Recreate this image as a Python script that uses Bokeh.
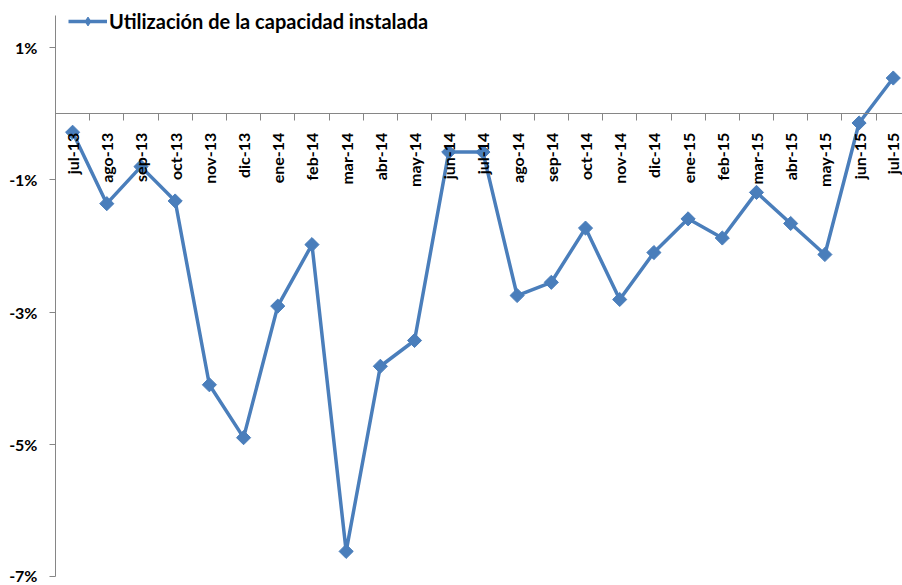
import math
from bokeh.plotting import figure
from bokeh.models import LinearAxis, FixedTicker, Range1d, Legend, LegendItem
from bokeh.embed import file_html
from bokeh.resources import INLINE

months = ["jul-13", "ago-13", "sep-13", "oct-13", "nov-13", "dic-13", "ene-14", "feb-14",
          "mar-14", "abr-14", "may-14", "jun-14", "jul-14", "ago-14", "sep-14", "oct-14",
          "nov-14", "dic-14", "ene-15", "feb-15", "mar-15", "abr-15", "may-15", "jun-15", "jul-15"]
utilizacion = [-0.28, -1.36, -0.80, -1.32, -4.10, -4.90, -2.91, -1.98,
               -6.62, -3.82, -3.43, -0.58, -0.58, -2.75, -2.55, -1.73,
               -2.81, -2.10, -1.59, -1.88, -1.19, -1.66, -2.13, -0.14, 0.54]
series_name = "Utilización de la capacidad instalada"
y_ticks = [1, -1, -3, -5, -7]
y_tick_labels = ["1%", "-1%", "-3%", "-5%", "-7%"]

FONT = "Lato"
BLUE = "#4A7EBB"
GRAY = "#868686"

xs = list(range(len(months)))
bounds = [i - 0.5 for i in range(len(months) + 1)]

p = figure(width=902, height=584, frame_width=847, frame_height=571,
           output_backend="svg", toolbar_location=None,
           x_axis_type=None,
           x_range=Range1d(-0.5, 24.27), y_range=Range1d(-7.0, 1.637),
           min_border_left=55, min_border_top=5, min_border_right=0, min_border_bottom=8)
p.outline_line_color = None
p.grid.visible = False
p.background_fill_color = "white"

# y axis
ya = p.yaxis[0]
ya.ticker = FixedTicker(ticks=y_ticks)
ya.bounds = (-7.0, 1.486)
ya.major_label_overrides = {t: l for t, l in zip(y_ticks, y_tick_labels)}
ya.axis_line_color = GRAY
ya.major_tick_line_color = GRAY
ya.major_tick_out = 6
ya.major_tick_in = 0
ya.minor_tick_line_color = None
ya.major_label_standoff = 12
ya.major_label_text_font = FONT
ya.major_label_text_font_style = "bold"
ya.major_label_text_font_size = "16px"
ya.major_label_text_color = "black"

# x axis at zero: labels at category centres, tick marks at category boundaries
ax = LinearAxis(ticker=FixedTicker(ticks=xs, minor_ticks=bounds),
                fixed_location=0,
                axis_line_color=GRAY,
                major_tick_line_color=None, major_tick_out=0, major_tick_in=0,
                minor_tick_line_color=GRAY, minor_tick_out=7, minor_tick_in=0,
                major_label_overrides={i: m for i, m in zip(xs, months)},
                major_label_orientation=math.pi / 2,
                major_label_standoff=12,
                major_label_text_font=FONT,
                major_label_text_font_style="bold",
                major_label_text_font_size="16px",
                major_label_text_color="black")
p.add_layout(ax, "below")

ln = p.line(xs, utilizacion, line_color=BLUE, line_width=3.5)
# small diamond under the first marker, used as the legend's diamond icon
mk_leg = p.scatter(xs[:1], utilizacion[:1], marker="diamond", size=7,
                   fill_color=BLUE, line_color=BLUE)
mk = p.scatter(xs, utilizacion, marker="square", angle=math.pi / 4, size=10,
               fill_color=BLUE, line_color=BLUE)

legend = Legend(items=[LegendItem(label=series_name, renderers=[ln, mk_leg])],
                location=(13, 543), padding=0, margin=0, spacing=0,
                glyph_width=39, glyph_height=22, label_height=22, label_standoff=2,
                border_line_color=None, background_fill_alpha=0,
                label_text_font=FONT, label_text_font_style="bold",
                label_text_font_size="20px", label_text_color="black")
p.add_layout(legend, "center")

open("out.html", "w").write(file_html(p, INLINE))
